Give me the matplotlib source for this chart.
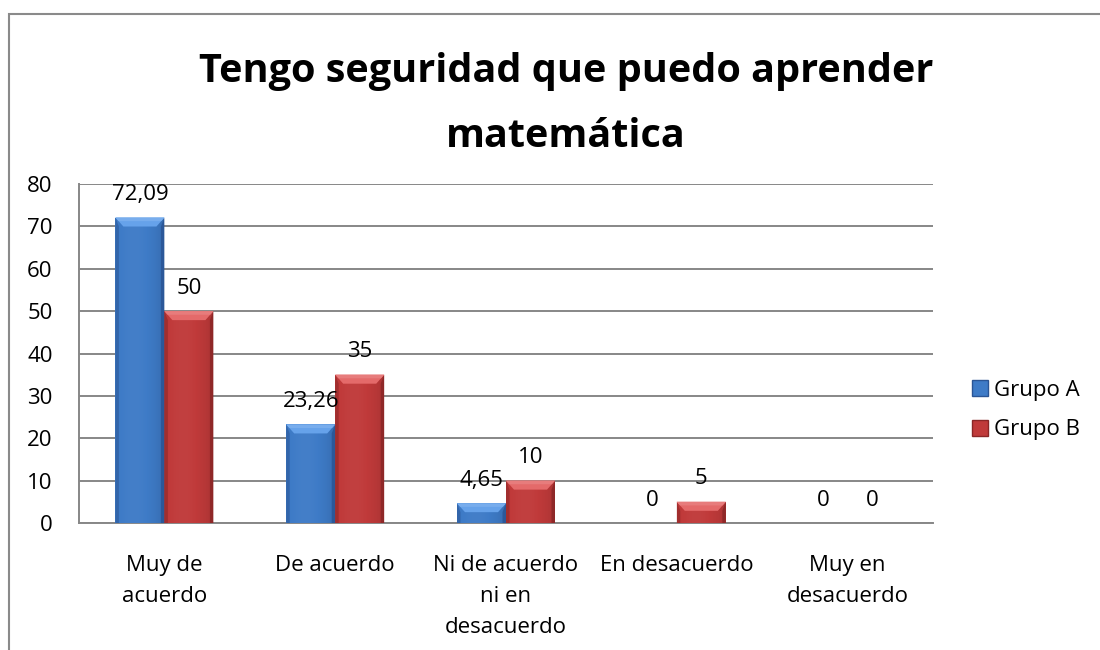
import numpy as np
import matplotlib
matplotlib.use("Agg")
import matplotlib.pyplot as plt
from matplotlib.patches import Polygon, Rectangle
from matplotlib.colors import to_rgb

# ---- data ----
categories = ["Muy de\nacuerdo", "De acuerdo", "Ni de acuerdo\nni en\ndesacuerdo",
              "En desacuerdo", "Muy en\ndesacuerdo"]
grupo_a = [72.09, 23.26, 4.65, 0, 0]
grupo_b = [50, 35, 10, 5, 0]
label_a = ["72,09", "23,26", "4,65", "0", "0"]
label_b = ["50", "35", "10", "5", "0"]
series_names = ["Grupo A", "Grupo B"]
yticks = [0, 10, 20, 30, 40, 50, 60, 70, 80]
title = "Tengo seguridad que puedo aprender\nmatemática"

FONT = "Open Sans"
plt.rcParams["font.family"] = [FONT, "DejaVu Sans"]
FS = 16

W, H = 1100, 650
fig = plt.figure(figsize=(W / 100, H / 100), dpi=100)
fig.patch.set_facecolor("white")

# outer chart frame (runs off the right and bottom edge)
frame = Rectangle((9 / W, -0.1), 1.2, 1 - 14 / H + 0.1, transform=fig.transFigure,
                  fill=False, edgecolor="#8a8a8a", linewidth=1.5)
fig.add_artist(frame)

left, right, top, bottom = 79, 933, 184, 523
ax = fig.add_axes([left / W, 1 - bottom / H, (right - left) / W, (bottom - top) / H])
ax.set_xlim(-0.5, len(categories) - 0.5)
ax.set_ylim(0, 80)

px_x = len(categories) / (right - left)   # data units per pixel, x
px_y = 80 / (bottom - top)                # data units per pixel, y

bar_w = 49 * px_x
palettes = {
    "Grupo A": dict(face="#3e7bc7", edge="#2a5595", light="#66a2ea"),
    "Grupo B": dict(face="#c03a3a", edge="#8a2626", light="#e46a6a"),
}


def shade(c, f):
    r = np.array(to_rgb(c))
    if f >= 0:
        return tuple(r + (1 - r) * f)
    return tuple(r * (1 + f))


def bevel_bar(x0, h, pal):
    """Bevelled bar from x0 to x0+bar_w with height h."""
    if h <= 0:
        return
    x1 = x0 + bar_w
    bx = 8 * px_x
    by = min(9 * px_y, h * 0.45)
    # face with a soft horizontal gradient
    n = 64
    t = np.linspace(0, 1, n)
    prof = 0.07 * np.exp(-((t - 0.4) / 0.4) ** 2) - 0.04 - 0.08 * t ** 6
    img = np.empty((1, n, 3))
    for i, f in enumerate(prof):
        img[0, i] = shade(pal["face"], f)
    rect = Rectangle((x0, 0), bar_w, h, facecolor=pal["face"], edgecolor="none", zorder=3)
    ax.add_patch(rect)
    im = ax.imshow(img, extent=(x0, x1, 0, h), aspect="auto", zorder=3.1,
                   interpolation="bilinear")
    im.set_clip_path(rect)
    # side bevels (darker)
    sx = 3.5 * px_x
    ax.add_patch(Polygon([(x0, 0), (x0 + sx, 0), (x0 + sx, h - by), (x0, h)],
                         closed=True, facecolor=pal["edge"], edgecolor="none",
                         alpha=0.55, zorder=3.2))
    ax.add_patch(Polygon([(x1, 0), (x1 - sx, 0), (x1 - sx, h - by), (x1, h)],
                         closed=True, facecolor=pal["edge"], edgecolor="none",
                         alpha=0.85, zorder=3.2))
    # top bevel (lighter)
    ax.add_patch(Polygon([(x0, h), (x1, h), (x1 - bx, h - by), (x0 + bx, h - by)],
                         closed=True, facecolor=pal["light"], edgecolor="none", zorder=3.3))
    ax.add_patch(Polygon([(x0, h), (x1, h), (x1 - bx * 0.4, h - by * 0.4),
                          (x0 + bx * 0.4, h - by * 0.4)],
                         closed=True, facecolor=shade(pal["light"], 0.12), edgecolor="none",
                         zorder=3.35))


x = np.arange(len(categories))
for vals, labs, name, off in [(grupo_a, label_a, "Grupo A", -1), (grupo_b, label_b, "Grupo B", 0)]:
    pal = palettes[name]
    for xi, v, lab in zip(x, vals, labs):
        x0 = xi + off * bar_w
        bevel_bar(x0, v, pal)
        ax.annotate(lab, (x0 + bar_w / 2, v), xytext=(0, 9), textcoords="offset points",
                    ha="center", va="bottom", fontsize=FS, color="black", zorder=5)

# gridlines & axes
ax.set_yticks(yticks)
ax.yaxis.grid(True, color="#878787", linewidth=1.4, zorder=0)
ax.set_axisbelow(True)
ax.set_xticks(x)
ax.set_xticklabels(categories, fontsize=FS, linespacing=1.62)
ax.tick_params(axis="x", length=0, pad=23)
ax.tick_params(axis="y", length=0, pad=19, labelsize=FS)
for s in ["top", "right"]:
    ax.spines[s].set_visible(False)
for s in ["left", "bottom"]:
    ax.spines[s].set_color("#878787")
    ax.spines[s].set_linewidth(1.4)
ax.set_facecolor("none")

# title
fig.text(566 / W, 1 - 104 / H, title, ha="center", va="center",
         fontsize=28.5, fontweight="bold", linespacing=1.85)

# legend
handles = [Rectangle((0, 0), 1, 1, facecolor=palettes[n]["face"], edgecolor=palettes[n]["edge"])
           for n in series_names]
leg = fig.legend(handles, series_names, loc="center left", bbox_to_anchor=(972 / W, 1 - 410 / H),
                 frameon=False, fontsize=FS, handlelength=0.72, handleheight=0.72,
                 handletextpad=0.25, labelspacing=0.85, borderaxespad=0, borderpad=0)

fig.savefig("out.png", dpi=100, facecolor="white")
